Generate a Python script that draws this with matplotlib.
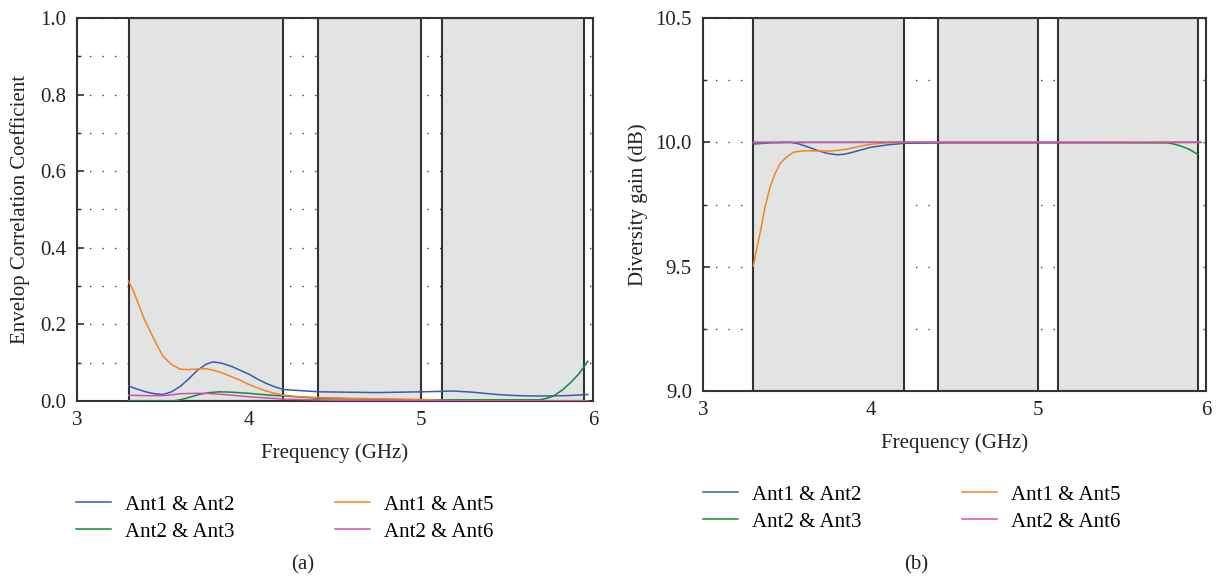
import matplotlib
matplotlib.use("Agg")
import matplotlib.pyplot as plt
from matplotlib.ticker import MultipleLocator, FormatStrFormatter

plt.rcParams['font.family'] = ['Liberation Serif', 'DejaVu Serif']

# ---------------- data (a) ECC ----------------
ecc12_f = [3.30, 3.35, 3.40, 3.45, 3.50, 3.55, 3.60, 3.65, 3.70, 3.75, 3.79, 3.84, 3.90, 3.95, 4.00, 4.05,
           4.10, 4.15, 4.20, 4.30, 4.41, 4.74, 5.01, 5.19, 5.30, 5.44, 5.56, 5.69, 5.85, 5.97]
ecc12_v = [0.039, 0.031, 0.024, 0.019, 0.017, 0.024, 0.038, 0.058, 0.080, 0.096, 0.102, 0.099, 0.090, 0.080, 0.070, 0.057,
           0.046, 0.037, 0.030, 0.027, 0.024, 0.022, 0.024, 0.026, 0.023, 0.017, 0.014, 0.013, 0.014, 0.017]

ecc15_f = [3.30, 3.33, 3.36, 3.39, 3.42, 3.46, 3.50, 3.55, 3.60, 3.65, 3.71, 3.75, 3.79, 3.84, 3.89, 3.95,
           4.00, 4.05, 4.10, 4.15, 4.20, 4.30, 4.41, 4.70, 5.01, 5.14, 5.40, 5.97]
ecc15_v = [0.313, 0.285, 0.250, 0.215, 0.187, 0.150, 0.117, 0.095, 0.083, 0.082, 0.084, 0.084, 0.081, 0.074, 0.065, 0.054,
           0.043, 0.034, 0.026, 0.020, 0.015, 0.011, 0.009, 0.006, 0.004, 0.001, 0.000, 0.000]

ecc23_f = [3.30, 3.56, 3.60, 3.64, 3.71, 3.77, 3.83, 3.90, 4.00, 4.10, 4.20, 4.41, 5.00, 5.69, 5.73, 5.77,
           5.82, 5.87, 5.92, 5.97]
ecc23_v = [0.000, 0.000, 0.003, 0.008, 0.017, 0.022, 0.024, 0.023, 0.020, 0.016, 0.013, 0.007, 0.003, 0.003, 0.007, 0.013,
           0.028, 0.048, 0.072, 0.104]

ecc26_f = [3.30, 3.40, 3.50, 3.55, 3.60, 3.68, 3.75, 3.82, 3.88, 4.00, 4.10, 4.20, 4.50, 5.00, 5.50, 5.97]
ecc26_v = [0.015, 0.014, 0.014, 0.016, 0.019, 0.020, 0.020, 0.018, 0.016, 0.011, 0.008, 0.005, 0.002, 0.001, 0.000, 0.000]

# ---------------- data (b) Diversity gain ----------------
dg12_f = [3.30, 3.40, 3.52, 3.57, 3.62, 3.68, 3.74, 3.80, 3.84, 3.88, 3.94, 4.00, 4.10, 4.20, 4.50, 5.00, 5.50, 5.97]
dg12_v = [9.993, 9.998, 10.0, 9.994, 9.983, 9.968, 9.956, 9.950, 9.952, 9.958, 9.969, 9.980, 9.990, 9.996, 9.998,
          9.998, 9.999, 10.0]

dg15_f = [3.30, 3.32, 3.344, 3.37, 3.40, 3.43, 3.46, 3.50, 3.54, 3.58, 3.62, 3.74, 3.80, 3.86, 3.92, 3.98,
          4.04, 4.10, 4.20, 4.50, 5.00, 5.97]
dg15_v = [9.503, 9.570, 9.647, 9.740, 9.820, 9.875, 9.915, 9.942, 9.960, 9.965, 9.966, 9.965, 9.967, 9.973, 9.982,
          9.990, 9.995, 9.998, 10.0, 10.0, 10.0, 10.0]

dg23_f = [3.30, 4.00, 5.00, 5.77, 5.81, 5.85, 5.90, 5.95]
dg23_v = [10.0, 10.0, 10.0, 9.998, 9.993, 9.985, 9.972, 9.952]

dg26_f = [3.30, 4.00, 5.00, 5.97]
dg26_v = [9.999, 10.0, 10.0, 10.0]

bands = [(3.30, 4.20), (4.40, 5.00), (5.12, 5.95)]
labels = ["Ant1 & Ant2", "Ant2 & Ant3", "Ant1 & Ant5", "Ant2 & Ant6"]
colors = {"12": "#3a5bab", "15": "#f7821e", "23": "#138a3e", "26": "#d44fb0"}

FS = 15
fig = plt.figure(figsize=(12.16, 5.78), dpi=100)
axA = fig.add_axes([77/1216, 1-401/578, 516/1216, 383/578])
axB = fig.add_axes([703/1216, 1-391/578, 503/1216, 373/578])

spine_col = "#333333"
txt_col = "#222222"
for ax in (axA, axB):
    for b0, b1 in bands:
        ax.axvspan(b0, b1, facecolor="#e2e4e3", edgecolor=spine_col, lw=1.5, zorder=1)
    ax.set_xlim(3, 6)
    ax.xaxis.set_major_locator(MultipleLocator(1))
    ax.xaxis.set_minor_locator(MultipleLocator(0.5))
    ax.tick_params(direction="in", which="both", labelsize=FS, colors=spine_col, labelcolor=txt_col)
    ax.tick_params(which="major", length=5, width=1.2)
    ax.tick_params(which="minor", length=3, width=1.0)
    ax.tick_params(axis="y", which="major", pad=8)
    ax.tick_params(axis="x", which="major", pad=7)
    for s in ax.spines.values():
        s.set_color(spine_col)
        s.set_linewidth(1.5)
    ax.set_axisbelow(True)
    ax.set_xlabel("Frequency (GHz)", fontsize=FS, color=txt_col, labelpad=10)

# (a)
axA.set_ylim(0, 1.0)
axA.yaxis.set_major_locator(MultipleLocator(0.2))
axA.yaxis.set_minor_locator(MultipleLocator(0.1))
axA.yaxis.set_major_formatter(FormatStrFormatter("%.1f"))
axA.grid(axis="y", which="both", color="#444444", linestyle=(0, (1, 8)), lw=1.0)
lA = {}
lA["12"], = axA.plot(ecc12_f, ecc12_v, color=colors["12"], lw=1.1, zorder=3)
lA["23"], = axA.plot(ecc23_f, ecc23_v, color=colors["23"], lw=1.1, zorder=3)
lA["15"], = axA.plot(ecc15_f, ecc15_v, color=colors["15"], lw=1.1, zorder=3)
lA["26"], = axA.plot(ecc26_f, ecc26_v, color=colors["26"], lw=1.1, zorder=3)
axA.set_ylabel("Envelop Correlation Coefficient", fontsize=FS, color=txt_col, labelpad=7)

# (b)
axB.set_ylim(9.0, 10.5)
axB.yaxis.set_major_locator(MultipleLocator(0.5))
axB.yaxis.set_minor_locator(MultipleLocator(0.25))
axB.yaxis.set_major_formatter(FormatStrFormatter("%.1f"))
axB.grid(axis="y", which="both", color="#444444", linestyle=(0, (1, 8)), lw=1.0)
lB = {}
lB["12"], = axB.plot(dg12_f, dg12_v, color=colors["12"], lw=1.1, zorder=3)
lB["23"], = axB.plot(dg23_f, dg23_v, color=colors["23"], lw=1.1, zorder=3)
lB["15"], = axB.plot(dg15_f, dg15_v, color=colors["15"], lw=1.1, zorder=3)
lB["26"], = axB.plot(dg26_f, dg26_v, color=colors["26"], lw=1.1, zorder=3)
axB.set_ylabel("Diversity gain (dB)", fontsize=FS, color=txt_col, labelpad=5)

order = ["12", "23", "15", "26"]
legkw = dict(ncol=2, frameon=False, fontsize=FS, handlelength=1.7, handletextpad=0.67,
             columnspacing=4.8, labelspacing=0.36, loc="upper left", borderaxespad=0, borderpad=0)
fig.legend([lA[k] for k in order], labels, bbox_to_anchor=(76/1216, 1-495/578), **legkw)
fig.legend([lB[k] for k in order], labels, bbox_to_anchor=(703/1216, 1-485/578), **legkw)

fig.text(303/1216, 1-565/578, "(a)", fontsize=FS, ha="center", va="center", color=txt_col)
fig.text(916/1216, 1-565/578, "(b)", fontsize=FS, ha="center", va="center", color=txt_col)

fig.savefig("out.png", dpi=100)
